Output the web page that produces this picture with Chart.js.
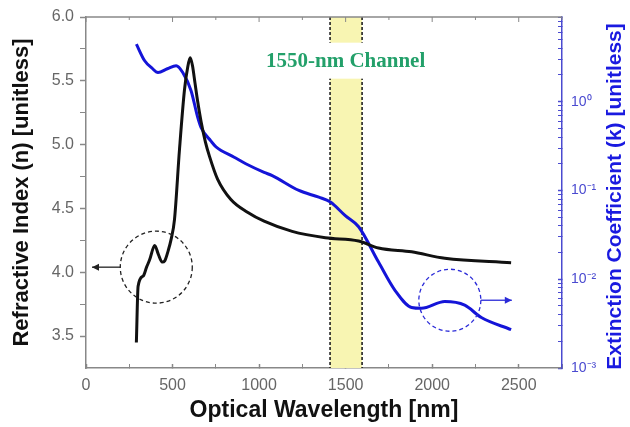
<!DOCTYPE html>
<html>
<head>
<meta charset="utf-8">
<script src="https://cdn.jsdelivr.net/npm/chart.js@4/dist/chart.umd.min.js"></script>
<style>
  html, body { margin: 0; padding: 0; background: #fff; }
</style>
</head>
<body>
<canvas id="opticalChart" width="630" height="427"></canvas>
<script>
// refractive index n (left axis)
var nWavelength = [291, 301, 330, 350, 368, 397, 418, 440, 455, 475, 492, 511, 540, 569, 588, 602, 615, 630, 645, 665, 690, 713, 760, 837, 933, 1029, 1191, 1383, 1575, 1690, 1881, 2073, 2456];
var nValues = [3.45, 3.89, 3.97, 4.04, 4.10, 4.21, 4.14, 4.08, 4.09, 4.17, 4.26, 4.41, 4.96, 5.43, 5.61, 5.68, 5.62, 5.48, 5.34, 5.18, 5.02, 4.91, 4.73, 4.57, 4.47, 4.40, 4.32, 4.27, 4.245, 4.19, 4.16, 4.11, 4.075];

// extinction coefficient k (right axis, log)
var kWavelength = [291, 339, 380, 416, 470, 521, 559, 607, 645, 665, 722, 751, 856, 923, 1029, 1076, 1230, 1345, 1412, 1498, 1575, 1690, 1785, 1881, 1938, 2073, 2188, 2284, 2456];
var kValues = [4.45, 2.89, 2.4, 2.13, 2.35, 2.54, 2.13, 1.33, 0.67, 0.51, 0.36, 0.31, 0.237, 0.20, 0.16, 0.147, 0.10, 0.084, 0.074, 0.052, 0.039, 0.0156, 0.0075, 0.0048, 0.0047, 0.0056, 0.0051, 0.0037, 0.0027];

var xTicks = [0, 500, 1000, 1500, 2000, 2500];
var xMinorTicks = [250, 750, 1250, 1750, 2250, 2750];
var nTicks = [3.5, 4.0, 4.5, 5.0, 5.5, 6.0];
var nMinorTicks = [3.75, 4.25, 4.75, 5.25, 5.75];
var kTicks = [0.001, 0.01, 0.1, 1];
var kTickLabels = ['10\u207B\u00B3', '10\u207B\u00B2', '10\u207B\u00B9', '10\u2070'];

var channelBand = [1410, 1595];

// minor log ticks 2..9 in each decade
var kMinorTicks = [];
[0.001, 0.01, 0.1, 1].forEach(function (d) {
  for (var m = 2; m <= 9; m++) kMinorTicks.push(+(d * m).toPrecision(3));
});

function toPoints(xs, ys) {
  return xs.map(function (v, i) { return { x: v, y: ys[i] }; });
}

function tickList(major, minor) {
  return major.map(function (v) { return { value: v, major: true }; })
    .concat(minor.map(function (v) { return { value: v }; }))
    .sort(function (p, q) { return p.value - q.value; });
}

function arrow(ctx, x0, y0, x1, y1, color) {
  var dir = x1 > x0 ? 1 : -1;
  ctx.strokeStyle = color;
  ctx.fillStyle = color;
  ctx.lineWidth = 1.3;
  ctx.setLineDash([]);
  ctx.beginPath();
  ctx.moveTo(x0, y0);
  ctx.lineTo(x1, y1);
  ctx.stroke();
  ctx.beginPath();
  ctx.moveTo(x1, y1);
  ctx.lineTo(x1 - dir * 7, y1 - 3.5);
  ctx.lineTo(x1 - dir * 7, y1 + 3.5);
  ctx.closePath();
  ctx.fill();
}

var overlay = {
  id: 'overlay',
  beforeDatasetsDraw: function (chart) {
    var ctx = chart.ctx, a = chart.chartArea, x = chart.scales.x, y = chart.scales.y;
    var x0 = x.getPixelForValue(channelBand[0]);
    var x1 = x.getPixelForValue(channelBand[1]);
    ctx.save();
    ctx.fillStyle = '#f8f5b2';
    ctx.fillRect(x0, a.top, x1 - x0, a.bottom - a.top);
    ctx.setLineDash([3, 2]);
    ctx.strokeStyle = '#222';
    ctx.lineWidth = 1.6;
    [x0, x1].forEach(function (px) {
      ctx.beginPath();
      ctx.moveTo(px, a.top);
      ctx.lineTo(px, a.bottom);
      ctx.stroke();
    });
    // channel label on a white patch
    var tx = x.getPixelForValue(1500), ty = y.getPixelForValue(5.65);
    ctx.font = 'bold 21px "Liberation Serif", "DejaVu Serif", serif';
    var w = ctx.measureText('1550-nm Channel').width;
    ctx.fillStyle = '#fff';
    ctx.fillRect(tx - w / 2 - 4, ty - 19, w + 8, 36);
    ctx.fillStyle = '#23a06a';
    ctx.textAlign = 'center';
    ctx.textBaseline = 'middle';
    ctx.fillText('1550-nm Channel', tx, ty);
    ctx.restore();
  },
  afterDraw: function (chart) {
    var ctx = chart.ctx, a = chart.chartArea, s = chart.scales;
    ctx.save();
    // top frame line with inward ticks
    ctx.strokeStyle = '#888';
    ctx.lineWidth = 1.5;
    ctx.beginPath();
    ctx.moveTo(a.left, a.top);
    ctx.lineTo(a.right, a.top);
    ctx.stroke();
    ctx.lineWidth = 1;
    s.x.ticks.forEach(function (t) {
      var px = s.x.getPixelForValue(t.value);
      ctx.beginPath();
      ctx.moveTo(px, a.top);
      ctx.lineTo(px, a.top + (t.major ? 5 : 3));
      ctx.stroke();
    });

    // dashed circles
    var cx = s.x.getPixelForValue(406), cy = s.y.getPixelForValue(4.04);
    ctx.setLineDash([4, 3]);
    ctx.lineWidth = 1.3;
    ctx.strokeStyle = '#222';
    ctx.beginPath();
    ctx.arc(cx, cy, 36, 0, Math.PI * 2);
    ctx.stroke();
    arrow(ctx, cx - 36, cy, a.left + 6, cy, '#222');

    var bx = s.x.getPixelForValue(2102), by = s.y1.getPixelForValue(0.0058);
    ctx.setLineDash([4, 3]);
    ctx.lineWidth = 1.3;
    ctx.strokeStyle = '#2a2ad8';
    ctx.beginPath();
    ctx.arc(bx, by, 31, 0, Math.PI * 2);
    ctx.stroke();
    arrow(ctx, bx + 31, by, bx + 62, by, '#2a2ad8');

    // right axis title, reading bottom to top
    ctx.translate(615, (a.top + a.bottom) / 2 + 4);
    ctx.rotate(-Math.PI / 2);
    ctx.font = 'bold 21px "Liberation Sans", Arial, sans-serif';
    ctx.fillStyle = '#1a1ae0';
    ctx.textAlign = 'center';
    ctx.textBaseline = 'middle';
    ctx.fillText('Extinction Coefficient (k) [unitless]', 0, 0);
    ctx.restore();
  }
};

var tickFont = { family: '"Liberation Sans", Arial, sans-serif', size: 16 };
var tickWidth = function (c) { return c.tick && c.tick.major ? 1.5 : 1; };

new Chart(document.getElementById('opticalChart'), {
  type: 'line',
  data: {
    datasets: [
      {
        label: 'n',
        data: toPoints(nWavelength, nValues),
        yAxisID: 'y',
        borderColor: '#111',
        borderWidth: 3,
        pointRadius: 0,
        cubicInterpolationMode: 'monotone'
      },
      {
        label: 'k',
        data: toPoints(kWavelength, kValues),
        yAxisID: 'y1',
        borderColor: '#1414d8',
        borderWidth: 3,
        pointRadius: 0,
        cubicInterpolationMode: 'monotone'
      }
    ]
  },
  options: {
    responsive: false,
    animation: false,
    layout: { padding: { top: 17 } },
    plugins: { legend: { display: false }, tooltip: { enabled: false } },
    scales: {
      x: {
        type: 'linear',
        min: 0,
        max: 2750,
        afterFit: function (sc) { sc.height = 59; },
        afterBuildTicks: function (sc) { sc.ticks = tickList(xTicks, xMinorTicks); },
        ticks: {
          font: tickFont, color: '#666', padding: 12, maxRotation: 0, autoSkip: false,
          callback: function (v) { return xTicks.indexOf(v) >= 0 ? String(v) : ''; }
        },
        grid: { drawOnChartArea: false, tickLength: -4, color: '#888', tickWidth: tickWidth },
        border: { color: '#888', width: 1.5 },
        title: {
          display: true, text: 'Optical Wavelength [nm]', color: '#111', padding: { bottom: 3 },
          font: { family: '"Liberation Sans", Arial, sans-serif', size: 23, weight: 'bold' }
        }
      },
      y: {
        position: 'left',
        min: 3.25,
        max: 6.0,
        afterFit: function (sc) { sc.width = 86; sc.paddingTop = 0; sc.paddingBottom = 0; },
        afterBuildTicks: function (sc) { sc.ticks = tickList(nTicks, nMinorTicks); },
        ticks: {
          font: tickFont, color: '#666', padding: 6, autoSkip: false,
          callback: function (v) { return nTicks.indexOf(v) >= 0 ? v.toFixed(1) : ''; }
        },
        grid: { drawOnChartArea: false, tickLength: 6, color: '#888', tickWidth: tickWidth },
        border: { color: '#888', width: 1.5 },
        title: {
          display: true, text: 'Refractive Index (n) [unitless]', color: '#111', padding: { top: 9 },
          font: { family: '"Liberation Sans", Arial, sans-serif', size: 22, weight: 'bold' }
        }
      },
      y1: {
        type: 'logarithmic',
        position: 'right',
        min: 0.001,
        max: 9,
        afterFit: function (sc) { sc.width = 68; sc.paddingTop = 0; sc.paddingBottom = 0; },
        afterBuildTicks: function (sc) { sc.ticks = tickList(kTicks, kMinorTicks); },
        ticks: {
          font: { family: '"Liberation Sans", Arial, sans-serif', size: 14 },
          color: '#4a4ad0',
          padding: 13,
          autoSkip: false,
          callback: function (v) { var i = kTicks.indexOf(v); return i >= 0 ? kTickLabels[i] : ''; }
        },
        grid: { drawOnChartArea: false, tickLength: -4, color: '#4a4ad0', tickWidth: tickWidth },
        border: { color: '#4a4ad0', width: 1.5 }
      }
    }
  },
  plugins: [overlay]
});
</script>
</body>
</html>
